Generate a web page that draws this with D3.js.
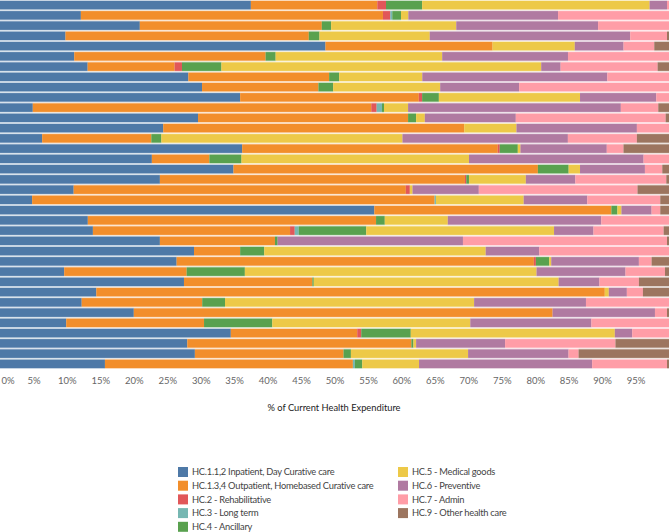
<!DOCTYPE html>
<html>
<head>
<meta charset="utf-8">
<script src="https://cdn.jsdelivr.net/npm/d3@7"></script>
<style>
  html, body { margin: 0; padding: 0; background: #fff; }
  svg { display: block; }
  text { font-family: Lato, "Noto Sans", sans-serif; }
</style>
</head>
<body>
<svg id="chart" width="669" height="532"></svg>
<script>
// Series (categories of health care function)
const categories = [
  "HC.1.1,2 Inpatient, Day Curative care",
  "HC.1.3,4 Outpatient, Homebased Curative care",
  "HC.2 - Rehabilitative",
  "HC.3 - Long term",
  "HC.4 - Ancillary",
  "HC.5 - Medical goods",
  "HC.6 - Preventive",
  "HC.7 - Admin",
  "HC.9 - Other health care"
];
const colors = ["#4e79a7", "#f28e2b", "#e15759", "#76b7b2", "#59a14f", "#edc948", "#b07aa1", "#ff9da7", "#9c755f"];

// Share (%) of current health expenditure, one value per bar (top to bottom)
const inpatient  = [37.5,12.1,20.9,9.8,48.7,11.1,13.1,28.1,30.2,35.9,4.9,29.6,24.4,6.3,36.2,22.7,34.9,23.9,11.0,4.8,55.9,13.1,13.9,23.9,29.0,26.4,9.6,27.5,14.4,12.2,20.0,9.9,34.5,28.0,29.1,15.7];
const outpatient = [18.9,45.2,27.2,36.4,25.0,28.6,13.0,21.0,17.4,26.7,50.6,31.4,45.0,16.3,38.2,8.6,45.5,45.6,49.6,60.1,35.4,43.0,29.5,17.2,6.9,53.4,18.3,19.2,76.0,18.0,62.6,20.6,18.9,33.5,22.2,37.1];
const rehab      = [1.3,1.1,0,0,0,0,1.1,0,0,0.5,0.8,0,0,0,0.3,0,0,0.2,0.6,0,0,0,0.7,0,0,0.3,0,0,0,0,0,0,0.6,0,0,0];
const longterm   = [0,0.3,0,0,0,0,0,0,0,0,0.8,0,0,0,0,0,0,0,0,0.2,0,0,0.6,0,0,0,0,0,0,0,0,0,0,0,0,0.3];
const ancillary  = [5.4,1.3,1.4,1.6,0,1.5,5.9,1.5,2.2,2.5,0.3,1.2,0,1.5,2.7,4.8,4.6,0.4,0,0,0.9,1.3,10.1,0.4,3.6,2.0,8.7,0.2,0,3.4,0,10.2,7.4,0.3,1.1,1.1];
const medgoods   = [34.0,1.1,18.7,16.5,12.3,24.9,47.8,12.4,16.0,21.1,3.6,1.3,7.8,36.0,0.4,34.0,1.7,8.5,0.4,13.1,0.6,9.4,28.1,0,33.1,0.3,43.6,36.6,0.6,37.2,0,29.6,30.5,0.4,17.5,8.5];
const preventive = [2.6,22.4,21.2,30.0,7.3,18.8,2.9,27.6,11.8,11.4,31.8,13.6,18.0,24.7,12.9,26.1,9.7,7.4,9.9,9.5,4.5,22.9,5.9,27.7,8.0,13.1,13.3,6.1,2.7,16.7,15.3,18.1,2.6,13.3,15.0,25.9];
const admin      = [0.3,16.6,10.6,5.5,4.6,15.1,14.5,9.2,22.4,1.9,5.6,22.4,4.8,10.3,2.5,3.8,2.6,13.6,23.7,10.9,1.3,10.1,10.5,30.5,19.4,1.9,5.9,5.9,2.4,12.4,1.8,11.6,5.5,16.5,1.5,11.2];
const other      = [0,0,0,0.3,2.2,0,1.7,0,0,0,1.6,0.5,0,4.8,6.8,0,1.0,0.4,4.7,1.3,1.3,0,0.8,0.3,0,2.6,0.6,4.5,3.9,0,0.3,0,0,8.0,13.5,0.3];

const seriesValues = [inpatient, outpatient, rehab, longterm, ancillary, medgoods, preventive, admin, other];
const tickValues = d3.range(0, 100, 5);   // 0% ... 95%

// Build table
const rows = inpatient.map((_, i) => {
  const r = { id: "Bar " + (i + 1) };
  categories.forEach((c, k) => r[c] = seriesValues[k][i]);
  return r;
});

const stacked = d3.stack().keys(categories).offset(d3.stackOffsetExpand)(rows);

const svg = d3.select("#chart");
const W = 669;
const x = d3.scaleLinear().domain([0, 1]).range([0, W]);
const y = d3.scaleBand().domain(rows.map(d => d.id)).range([0, 369]).paddingInner(0.17).paddingOuter(0.085);
const color = d3.scaleOrdinal().domain(categories).range(colors);

// faint halo band
const halo = svg.append("g");
stacked.forEach(s => {
  halo.selectAll(null).data(s).join("rect")
    .attr("x", d => x(d[0]))
    .attr("width", d => Math.max(0, x(d[1]) - x(d[0])))
    .attr("y", d => y(d.data.id) + y.bandwidth() / 2 - y.step() / 2)
    .attr("height", y.step())
    .attr("fill", color(s.key))
    .attr("opacity", 0.22);
});

const bars = svg.append("g");
stacked.forEach(s => {
  bars.selectAll(null).data(s).join("rect")
    .attr("x", d => x(d[0]))
    .attr("width", d => Math.max(0, x(d[1]) - x(d[0])))
    .attr("y", d => y(d.data.id))
    .attr("height", y.bandwidth())
    .attr("fill", color(s.key));
});

// x axis
const axis = d3.axisBottom(x)
  .tickValues(tickValues.map(v => v / 100))
  .tickFormat(d => Math.round(d * 100) + "%")
  .tickSize(0)
  .tickPadding(0);
const gx = svg.append("g").attr("transform", "translate(0,377)").call(axis);
gx.select(".domain").remove();
gx.selectAll("text")
  .attr("fill", "#666")
  .attr("font-size", 9.5)
  .attr("dy", "0.71em")
  .style("font-family", "Lato, sans-serif");
gx.selectAll(".tick").filter(d => d === 0).select("text")
  .attr("text-anchor", "start").attr("x", 1);

svg.append("text")
  .attr("x", 334).attr("y", 411)
  .attr("text-anchor", "middle")
  .attr("font-size", 9.3)
  .attr("fill", "#222")
  .text("% of Current Health Expenditure");

// legend
const legend = svg.append("g");
categories.forEach((c, i) => {
  const col = i < 5 ? 0 : 1;
  const row = i < 5 ? i : i - 5;
  const lx = col === 0 ? 178 : 398;
  const ly = 467 + row * 13.7;
  legend.append("rect")
    .attr("x", lx).attr("y", ly)
    .attr("width", 10).attr("height", 10)
    .attr("fill", color(c));
  legend.append("text")
    .attr("x", lx + 14).attr("y", ly + 5)
    .attr("dy", "0.35em")
    .attr("font-size", 9.3)
    .attr("letter-spacing", -0.25)
    .attr("fill", "#444")
    .text(c);
});
</script>
</body>
</html>
